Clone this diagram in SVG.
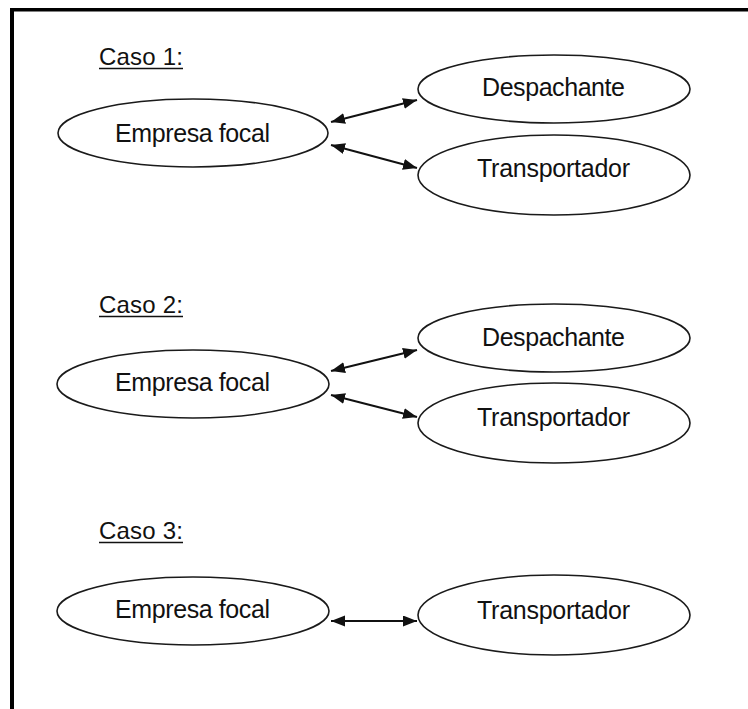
<svg xmlns="http://www.w3.org/2000/svg" width="748" height="709" viewBox="0 0 748 709">
<style>
.node{fill:#fff;stroke:#1a1a1a;stroke-width:1.6}
.lbl{font-family:"Liberation Sans",Arial,sans-serif;font-size:25px;fill:#111;text-anchor:middle}
.case{font-family:"Liberation Sans",Arial,sans-serif;font-size:24px;fill:#111}
.ul{stroke:#111;stroke-width:1.5}
.conn{stroke:#111;stroke-width:2;fill:none;marker-start:url(#ah);marker-end:url(#ah)}
</style>
<defs>
<marker id="ah" markerUnits="userSpaceOnUse" markerWidth="16" markerHeight="12" refX="14" refY="5.5" orient="auto-start-reverse">
<path d="M0,0 L14,5.5 L0,11 z" fill="#111"/>
</marker>
</defs>
<rect width="748" height="709" fill="#fff"/>
<rect x="10" y="8" width="738" height="3.5" fill="#000"/>
<rect x="10" y="8" width="4" height="701" fill="#000"/>

<g id="caso1-label">
<text class="case" x="99" y="65" textLength="84">Caso 1:</text>
<line class="ul" x1="99" y1="68.5" x2="183" y2="68.5"/>
</g>
<g id="c1-empresa">
<ellipse class="node" cx="193" cy="133" rx="135" ry="34"/>
<text class="lbl" x="192.5" y="142" textLength="155">Empresa focal</text>
</g>
<g id="c1-despachante">
<ellipse class="node" cx="554" cy="89" rx="136" ry="34"/>
<text class="lbl" x="553.5" y="96" textLength="143">Despachante</text>
</g>
<g id="c1-transportador">
<ellipse class="node" cx="554" cy="175" rx="136" ry="40"/>
<text class="lbl" x="553.5" y="177" textLength="153">Transportador</text>
</g>

<g id="caso2-label">
<text class="case" x="99" y="313" textLength="84">Caso 2:</text>
<line class="ul" x1="99" y1="316.5" x2="183" y2="316.5"/>
</g>
<g id="c2-empresa">
<ellipse class="node" cx="193" cy="384" rx="136" ry="34"/>
<text class="lbl" x="192.5" y="391" textLength="155">Empresa focal</text>
</g>
<g id="c2-despachante">
<ellipse class="node" cx="554" cy="338" rx="136" ry="34"/>
<text class="lbl" x="553.5" y="346" textLength="143">Despachante</text>
</g>
<g id="c2-transportador">
<ellipse class="node" cx="554" cy="423" rx="136" ry="40"/>
<text class="lbl" x="553.5" y="426" textLength="153">Transportador</text>
</g>

<g id="caso3-label">
<text class="case" x="99" y="539" textLength="84">Caso 3:</text>
<line class="ul" x1="99" y1="542.5" x2="183" y2="542.5"/>
</g>
<g id="c3-empresa">
<ellipse class="node" cx="193" cy="611" rx="136" ry="34"/>
<text class="lbl" x="192.5" y="618" textLength="155">Empresa focal</text>
</g>
<g id="c3-transportador">
<ellipse class="node" cx="554" cy="615" rx="136" ry="40"/>
<text class="lbl" x="553.5" y="619" textLength="153">Transportador</text>
</g>

<g id="connectors">
<line class="conn" x1="331" y1="122" x2="417" y2="100"/>
<line class="conn" x1="331" y1="145" x2="417" y2="168"/>
<line class="conn" x1="331" y1="371" x2="417" y2="350"/>
<line class="conn" x1="331" y1="395" x2="417" y2="417"/>
<line class="conn" x1="331" y1="621" x2="417" y2="621"/>
</g>
</svg>
